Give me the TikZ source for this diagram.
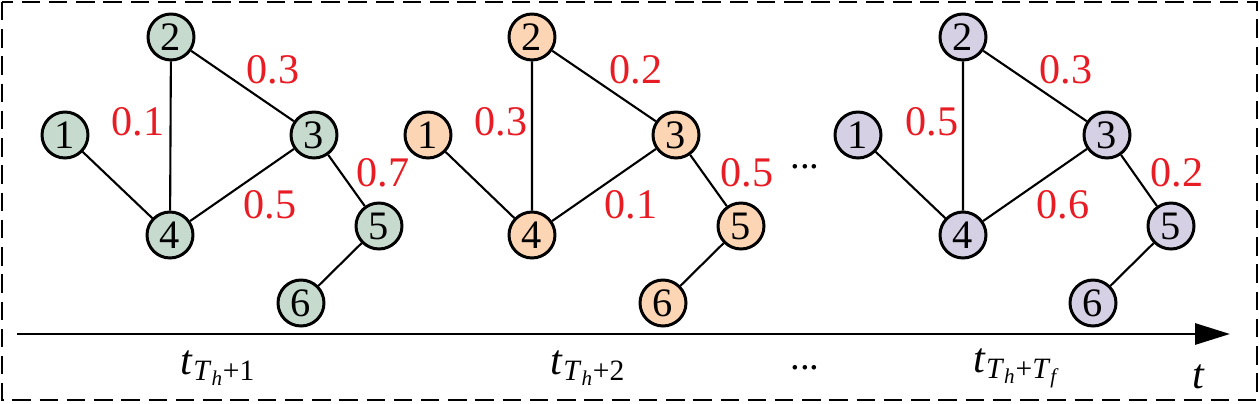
\documentclass[tikz,border=0pt]{standalone}
\usepackage{amsmath}
\usepackage{fontspec}
\setmainfont{Liberation Serif}
\usetikzlibrary{arrows.meta}
\definecolor{ngreen}{RGB}{198,219,205}
\definecolor{npeach}{RGB}{252,214,180}
\definecolor{nlav}{RGB}{214,208,228}
\definecolor{wred}{RGB}{232,28,36}
\tikzset{
  vtx/.style={circle,draw=black,line width=1.7pt,minimum size=0.92cm,inner sep=0pt,
    font=\rmfamily\fontsize{23pt}{23pt}\selectfont},
  edge/.style={line width=1.2pt},
  wlab/.style={text=wred,font=\rmfamily\fontsize{24pt}{24pt}\selectfont,inner sep=0pt},
  tlab/.style={font=\rmfamily\fontsize{24pt}{24pt}\selectfont,inner sep=0pt},
  dotlab/.style={font=\rmfamily\fontsize{22pt}{22pt}\selectfont,inner sep=0pt}
}
\begin{document}
\begin{tikzpicture}[x=0.02cm,y=-0.02cm]
\useasboundingbox (0,0) rectangle (1259,403);
\draw[line width=1.1pt,dash pattern=on 10.5pt off 5pt] (2,2) rectangle (1257,400);
% axis
\coordinate (ax0) at (17,334);
\coordinate (ax1) at (1230,334);
\draw[line width=1.7pt,-{Triangle[length=0.7cm,width=0.42cm]}] (ax0) -- (ax1);
% graph 1
\node[vtx,fill=ngreen] (a1) at (65,135) {1};
\node[vtx,fill=ngreen] (a2) at (171,37) {2};
\node[vtx,fill=ngreen] (a3) at (314,135) {3};
\node[vtx,fill=ngreen] (a4) at (170,235) {4};
\node[vtx,fill=ngreen] (a5) at (379,226) {5};
\node[vtx,fill=ngreen] (a6) at (301,303) {6};
\draw[edge] (a1) -- (a4) (a2) -- (a4) (a2) -- (a3) (a3) -- (a4) (a3) -- (a5) (a5) -- (a6);
\node[wlab] (la1) at (273,70) {0.3};
\node[wlab] (la2) at (138,122) {0.1};
\node[wlab] (la3) at (270,205) {0.5};
\node[wlab] (la4) at (383,173) {0.7};
% graph 2
\node[vtx,fill=npeach] (b1) at (428,135) {1};
\node[vtx,fill=npeach] (b2) at (532,37) {2};
\node[vtx,fill=npeach] (b3) at (676,135) {3};
\node[vtx,fill=npeach] (b4) at (532,235) {4};
\node[vtx,fill=npeach] (b5) at (741,226) {5};
\node[vtx,fill=npeach] (b6) at (663,303) {6};
\draw[edge] (b1) -- (b4) (b2) -- (b4) (b2) -- (b3) (b3) -- (b4) (b3) -- (b5) (b5) -- (b6);
\node[wlab] (lb1) at (636,70) {0.2};
\node[wlab] (lb2) at (501,122) {0.3};
\node[wlab] (lb3) at (631,205) {0.1};
\node[wlab] (lb4) at (747,173) {0.5};
% graph 3
\node[vtx,fill=nlav] (c1) at (858,135) {1};
\node[vtx,fill=nlav] (c2) at (963,37) {2};
\node[vtx,fill=nlav] (c3) at (1107,135) {3};
\node[vtx,fill=nlav] (c4) at (963,235) {4};
\node[vtx,fill=nlav] (c5) at (1171,226) {5};
\node[vtx,fill=nlav] (c6) at (1093,303) {6};
\draw[edge] (c1) -- (c4) (c2) -- (c4) (c2) -- (c3) (c3) -- (c4) (c3) -- (c5) (c5) -- (c6);
\node[wlab] (lc1) at (1066,70) {0.3};
\node[wlab] (lc2) at (932,122) {0.5};
\node[wlab] (lc3) at (1063,205) {0.6};
\node[wlab] (lc4) at (1177,173) {0.2};
% dots
\node[dotlab] (d1) at (805,167) {...};
\node[dotlab] (d2) at (805,368) {...};
% time labels
\node[tlab] (t1) at (218,368) {\textit{t}$_{\text{\textit{T}}_{\text{\textit{h}}}\text{+1}}$};
\node[tlab] (t2) at (588,368) {\textit{t}$_{\text{\textit{T}}_{\text{\textit{h}}}\text{+2}}$};
\node[tlab] (t3) at (1017,368) {\textit{t}$_{\text{\textit{T}}_{\text{\textit{h}}}\text{+}\text{\textit{T}}_{\text{\textit{f}}}}$};
\node[tlab] (t4) at (1199,377) {\textit{t}};
\end{tikzpicture}
\end{document}
